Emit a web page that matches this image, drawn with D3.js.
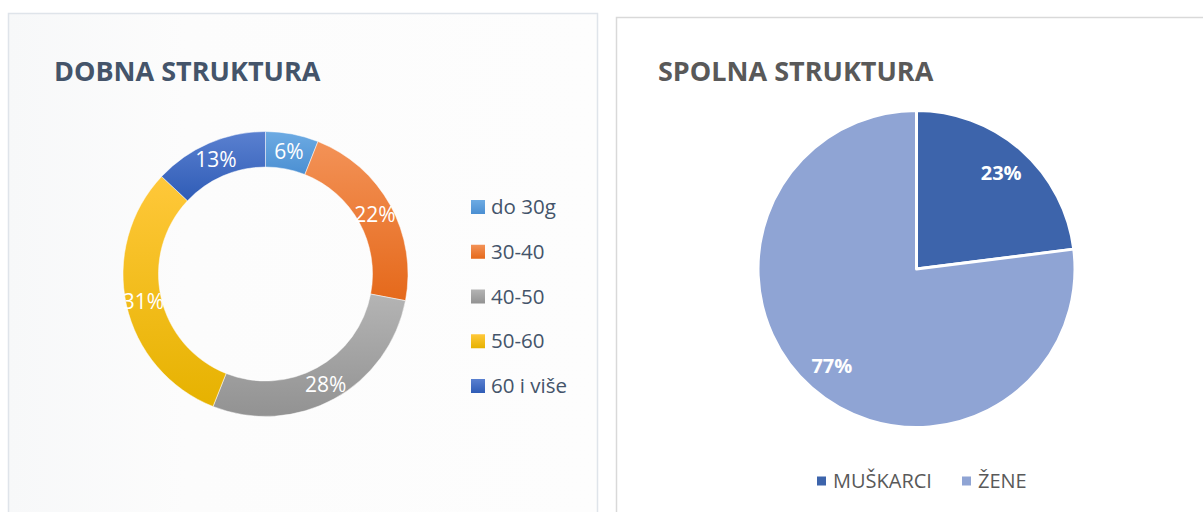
<!DOCTYPE html>
<html lang="hr">
<head>
<meta charset="UTF-8">
<title>Dobna i spolna struktura</title>
<script src="https://d3js.org/d3.v7.min.js"></script>
<style>
  body { margin: 0; background: #ffffff; }
  svg { display: block; font-family: "Open Sans", "Noto Sans", sans-serif; }
  .title { font-size: 27px; font-weight: bold; }
  .slice-label { fill: #ffffff; text-anchor: middle; dominant-baseline: central; }
</style>
</head>
<body>
<svg width="1203" height="512"></svg>
<script>
// age structure (donut)
const ageCategories = ["do 30g", "30-40", "40-50", "50-60", "60 i više"];
const ageValues = [6, 22, 28, 31, 13];
const ageColors = [["#6dabe3", "#4b8fd2"], ["#f39257", "#e5691b"], ["#b4b4b4", "#929292"],
                   ["#ffc83a", "#e6b200"], ["#5a80d0", "#2f5cb6"]];

// sex structure (pie)
const sexCategories = ["MUŠKARCI", "ŽENE"];
const sexValues = [23, 77];
const sexColors = ["#3d64ab", "#8fa4d4"];

const svg = d3.select("svg");
const defs = svg.append("defs");

ageColors.forEach((c, i) => {
  const g = defs.append("linearGradient")
    .attr("id", "grad" + i)
    .attr("x1", 0).attr("y1", 0).attr("x2", 0).attr("y2", 1);
  g.append("stop").attr("offset", "0%").attr("stop-color", c[0]);
  g.append("stop").attr("offset", "100%").attr("stop-color", c[1]);
});

// panels
const leftBg = defs.append("linearGradient").attr("id", "leftBg")
  .attr("x1", 0).attr("y1", 0).attr("x2", 1).attr("y2", 0);
leftBg.append("stop").attr("offset", "0%").attr("stop-color", "#f7f8f9");
leftBg.append("stop").attr("offset", "30%").attr("stop-color", "#fcfcfc");
leftBg.append("stop").attr("offset", "100%").attr("stop-color", "#fdfdfd");

svg.append("rect")
  .attr("x", 8.5).attr("y", 13.5).attr("width", 589).attr("height", 540)
  .attr("fill", "url(#leftBg)").attr("stroke", "#dfe4ea").attr("stroke-width", 1.5);

svg.append("rect")
  .attr("x", 616.5).attr("y", 17.5).attr("width", 600).attr("height", 540)
  .attr("fill", "#ffffff").attr("stroke", "#d9d9d9").attr("stroke-width", 1.5);

// ---- left: DOBNA STRUKTURA ----
svg.append("text").attr("class", "title")
  .attr("x", 54).attr("y", 81).attr("fill", "#44546a")
  .text("DOBNA STRUKTURA");

const donutCx = 265.5, donutCy = 274;
const pieAge = d3.pie().sort(null).value(d => d.value);
const ageData = pieAge(ageCategories.map((c, i) => ({ cat: c, value: ageValues[i], i })));
const arcAge = d3.arc().innerRadius(107).outerRadius(142.5);
const labelArcAge = d3.arc().innerRadius(125).outerRadius(125);

const donut = svg.append("g").attr("transform", `translate(${donutCx},${donutCy})`);
donut.selectAll("path")
  .data(ageData)
  .join("path")
  .attr("d", arcAge)
  .attr("fill", d => `url(#grad${d.data.i})`)
  .attr("stroke", "#ffffff")
  .attr("stroke-width", 0.5);

donut.selectAll("text")
  .data(ageData)
  .join("text")
  .attr("class", "slice-label")
  .attr("transform", d => `translate(${labelArcAge.centroid(d)})`)
  .attr("font-size", 21)
  .text(d => d.data.value + "%");

const ageLegendY = d3.scalePoint().domain(ageCategories).range([207, 386]);
const ageLegend = svg.append("g").selectAll("g")
  .data(ageCategories)
  .join("g")
  .attr("transform", d => `translate(471,${ageLegendY(d)})`);
ageLegend.append("rect")
  .attr("x", 0).attr("y", -7).attr("width", 14).attr("height", 14)
  .attr("fill", (d, i) => `url(#grad${i})`);
ageLegend.append("text")
  .attr("x", 20).attr("y", 0).attr("dy", "0.35em")
  .attr("font-size", 20.5).attr("fill", "#44546a")
  .text(d => d);

// ---- right: SPOLNA STRUKTURA ----
svg.append("text").attr("class", "title")
  .attr("x", 658).attr("y", 81).attr("fill", "#595959")
  .text("SPOLNA STRUKTURA");

const pieCx = 916.5, pieCy = 269;
const pieSex = d3.pie().sort(null).value(d => d.value);
const sexData = pieSex(sexCategories.map((c, i) => ({ cat: c, value: sexValues[i], i })));
const arcSex = d3.arc().innerRadius(0).outerRadius(158.5);
const labelArcSex = d3.arc().innerRadius(128).outerRadius(128);

const pie = svg.append("g").attr("transform", `translate(${pieCx},${pieCy})`);
pie.selectAll("path")
  .data(sexData)
  .join("path")
  .attr("d", arcSex)
  .attr("fill", d => sexColors[d.data.i])
  .attr("stroke", "#ffffff")
  .attr("stroke-width", 3)
  .attr("stroke-linejoin", "round");

pie.selectAll("text")
  .data(sexData)
  .join("text")
  .attr("class", "slice-label")
  .attr("transform", d => `translate(${labelArcSex.centroid(d)})`)
  .attr("font-size", 20).attr("font-weight", "bold")
  .text(d => d.data.value + "%");

const sexLegendX = d3.scaleOrdinal().domain(sexCategories).range([817, 962]);
const sexLegend = svg.append("g").selectAll("g")
  .data(sexCategories)
  .join("g")
  .attr("transform", d => `translate(${sexLegendX(d)},481)`);
sexLegend.append("rect")
  .attr("x", 0).attr("y", -4.5).attr("width", 9).attr("height", 9)
  .attr("fill", (d, i) => sexColors[i]);
sexLegend.append("text")
  .attr("x", 16).attr("y", 0).attr("dy", "0.35em")
  .attr("font-size", 20).attr("fill", "#595959")
  .text(d => d);
</script>
</body>
</html>
